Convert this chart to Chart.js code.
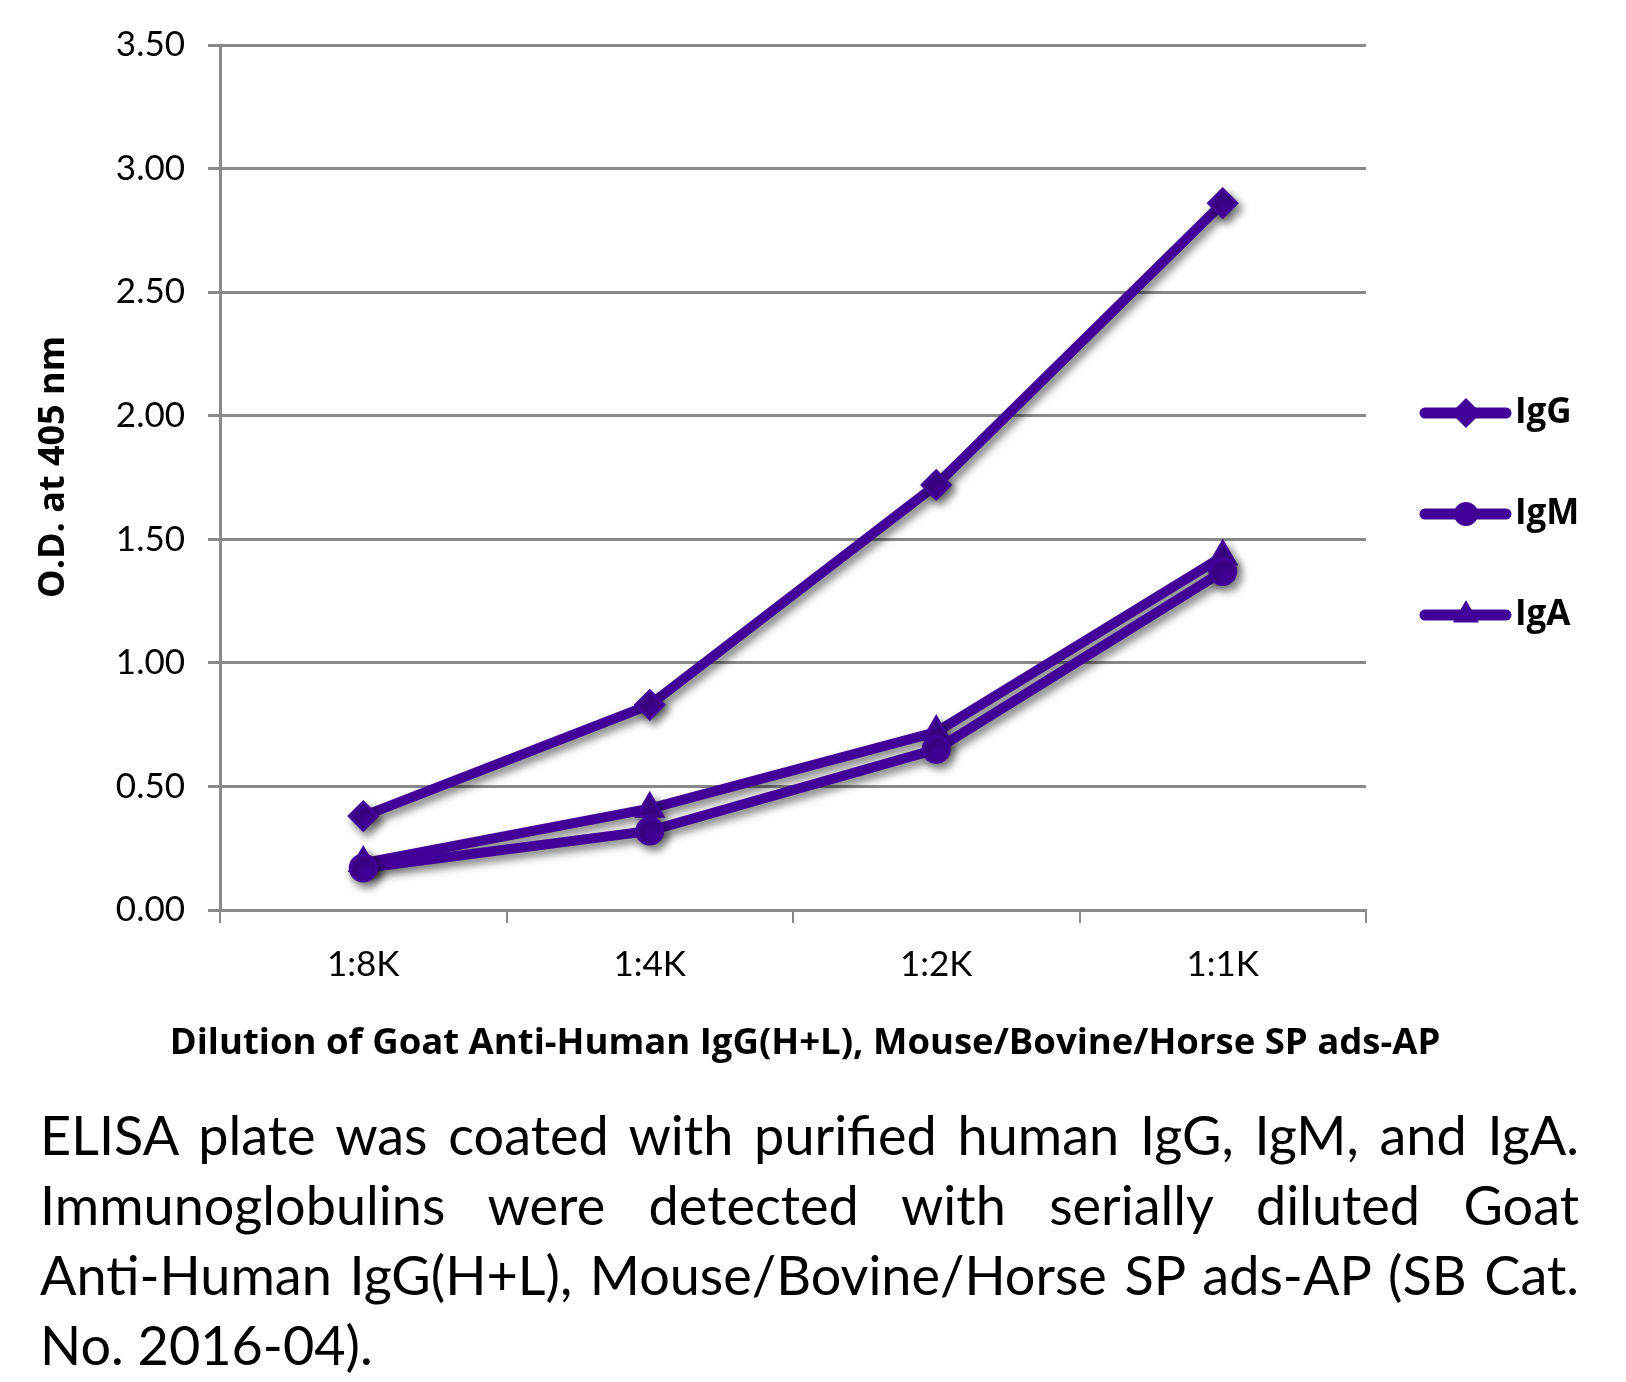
<!DOCTYPE html>
<html>
<head>
<meta charset="utf-8">
<script src="https://cdn.jsdelivr.net/npm/chart.js@4"></script>
<style>
html,body{margin:0;padding:0;background:#fff;}
#wrap{position:relative;width:1626px;height:1382px;overflow:hidden;}
#chartBox{position:absolute;left:0;top:0;width:1626px;height:1085px;}
#caption{position:absolute;left:40px;top:1100px;width:1539px;font-family:Lato,"Open Sans",sans-serif;font-size:54px;line-height:70px;color:#000;}
.ln{text-align:justify;text-align-last:justify;}
.last{text-align:left;text-align-last:left;}
</style>
</head>
<body>
<div id="wrap">
  <div id="chartBox"><canvas id="c"></canvas></div>
  <div id="caption">
    <div class="ln">ELISA plate was coated with purified human IgG, IgM, and IgA.</div>
    <div class="ln">Immunoglobulins were detected with serially diluted Goat</div>
    <div class="ln">Anti-Human IgG(H+L), Mouse/Bovine/Horse SP ads-AP (SB Cat.</div>
    <div class="last">No. 2016-04).</div>
  </div>
</div>
<script>
// ---- data ----
const categories = ['1:8K', '1:4K', '1:2K', '1:1K'];
const seriesNames = ['IgG', 'IgM', 'IgA'];
const igGValues = [0.38, 0.83, 1.72, 2.86];
const igMValues = [0.17, 0.32, 0.65, 1.37];
const igAValues = [0.19, 0.41, 0.72, 1.43];
const yMin = 0, yMax = 3.5, yStep = 0.5;
const xTitle = 'Dilution of Goat Anti-Human IgG(H+L), Mouse/Bovine/Horse SP ads-AP';
const yTitle = 'O.D. at 405 nm';

const PURPLE = '#430098';
const GRID = '#898989';
const FONT = 'Lato, "Open Sans", sans-serif';
const BOLDFONT = '"Open Sans", Lato, sans-serif';

function ds(label, data, style, radius) {
  return {
    label, data,
    borderColor: PURPLE, backgroundColor: PURPLE,
    borderWidth: 10,
    pointStyle: style, pointRadius: radius, pointHoverRadius: radius,
    pointBorderWidth: 3, pointBorderColor: PURPLE, pointBackgroundColor: PURPLE,
    tension: 0, fill: false
  };
}

const shadowPlugin = {
  id: 'shadow',
  beforeDatasetsDraw(chart) {
    const c = chart.ctx;
    c.save();
    c.shadowColor = 'rgba(0,0,0,0.5)';
    c.shadowBlur = 8;
    c.shadowOffsetX = 4;
    c.shadowOffsetY = 5;
  },
  afterDatasetsDraw(chart) { chart.ctx.restore(); }
};

function marker(ctx, style, x, y, r) {
  ctx.beginPath();
  if (style === 'rectRot') {
    ctx.moveTo(x, y - r); ctx.lineTo(x + r, y); ctx.lineTo(x, y + r); ctx.lineTo(x - r, y); ctx.closePath();
  } else if (style === 'circle') {
    ctx.arc(x, y, r, 0, Math.PI * 2);
  } else {
    ctx.moveTo(x, y - r);
    ctx.lineTo(x + r * Math.sin(2 * Math.PI / 3), y - r * Math.cos(2 * Math.PI / 3));
    ctx.lineTo(x + r * Math.sin(4 * Math.PI / 3), y - r * Math.cos(4 * Math.PI / 3));
    ctx.closePath();
  }
  ctx.fill();
}

const legendPlugin = {
  id: 'customLegend',
  afterDraw(chart) {
    const c = chart.ctx;
    c.save();
    chart.data.datasets.forEach((d, i) => {
      const y = 413 + i * 101;
      c.strokeStyle = d.borderColor; c.fillStyle = d.borderColor;
      c.lineWidth = 11; c.lineCap = 'round';
      c.beginPath(); c.moveTo(1425, y); c.lineTo(1506, y); c.stroke();
      marker(c, d.pointStyle, 1466, y, d.pointStyle === 'circle' ? 12 : 15);
      c.fillStyle = '#000';
      c.font = 'bold 35px ' + BOLDFONT;
      c.textBaseline = 'middle'; c.textAlign = 'left';
      c.fillText(d.label, 1515, y);
    });
    c.restore();
  }
};

// axis titles drawn unclipped (the reference's x title is wider than the plot)
const axisTitlePlugin = {
  id: 'axisTitles',
  afterDraw(chart) {
    const c = chart.ctx;
    c.save();
    c.fillStyle = '#000';
    c.textAlign = 'center'; c.textBaseline = 'middle';
    c.font = 'bold 36.5px ' + BOLDFONT;
    c.fillText(xTitle, 805, 1044);
    c.translate(54, 467);
    c.rotate(-Math.PI / 2);
    c.font = 'bold 36px ' + BOLDFONT;
    c.fillText(yTitle, 0, 0);
    c.restore();
  }
};

new Chart(document.getElementById('c'), {
  type: 'line',
  data: {
    labels: categories,
    datasets: [
      ds(seriesNames[0], igGValues, 'rectRot', 14),
      ds(seriesNames[1], igMValues, 'circle', 13),
      ds(seriesNames[2], igAValues, 'triangle', 15)
    ]
  },
  plugins: [shadowPlugin, legendPlugin, axisTitlePlugin],
  options: {
    responsive: true, maintainAspectRatio: false, animation: false,
    layout: { padding: { left: 0, top: 45, right: 260, bottom: 0 } },
    plugins: { legend: { display: false }, tooltip: { enabled: false } },
    scales: {
      x: {
        offset: true,
        grid: { display: true, drawOnChartArea: false, drawTicks: true, tickLength: 13, offset: true, color: GRID, lineWidth: 2 },
        border: { display: true, color: GRID, width: 3 },
        ticks: { color: '#000', font: { family: FONT, size: 35 }, padding: 21, maxRotation: 0 },
        title: { display: false, text: xTitle },
        afterFit(s) { s.height = 175; }
      },
      y: {
        min: yMin, max: yMax,
        grid: { color: GRID, lineWidth: 3, tickLength: 12, drawTicks: true },
        border: { display: true, color: GRID, width: 3 },
        ticks: { stepSize: yStep, color: '#000', font: { family: FONT, size: 35 }, padding: 23, callback: v => Number(v).toFixed(2) },
        title: { display: false, text: yTitle },
        afterFit(s) { s.width = 220; }
      }
    }
  }
});
</script>
</body>
</html>
